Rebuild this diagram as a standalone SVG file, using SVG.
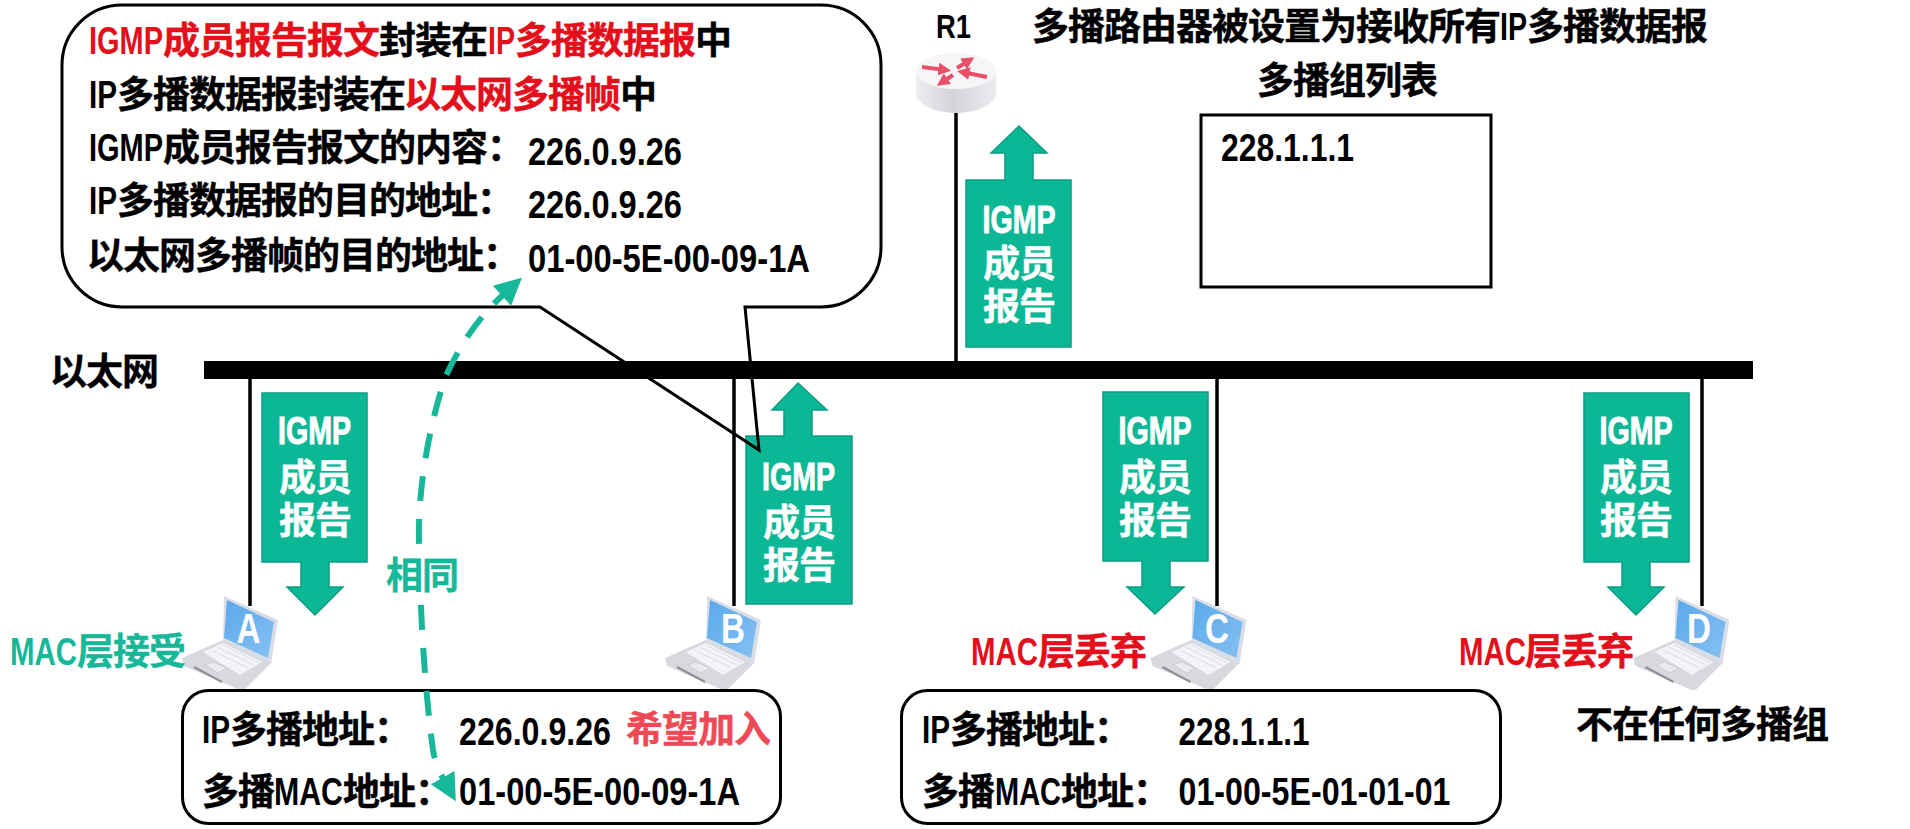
<svg xmlns="http://www.w3.org/2000/svg" width="1910" height="829" viewBox="0 0 1910 829">
<style>
  text { font-family: "Liberation Sans", "Noto Sans CJK SC", sans-serif; font-weight: 700; fill: #000; }
  .c { font-size: 37px; letter-spacing: -1px; stroke: #000; stroke-width: 0.4px; }
  .l { font-size: 39px; }
  .red { fill: #e30f1b; stroke: #e30f1b; }
  .mint { fill: #17b899; stroke: #17b899; }
  .pink { fill: #ee4a55; stroke: #ee4a55; }
  .w { fill: #fff; stroke: #fff; }
  .tag { font-size: 42px; fill: #fff; }
  .box { fill: none; stroke: #000; stroke-width: 3; }
  .wire { stroke: #000; stroke-width: 3.5; fill: none; }
  .pkt { fill: #0cb795; stroke: #0a9d82; stroke-width: 1.5; }
  .same { fill: none; stroke: #17b899; stroke-width: 6; stroke-dasharray: 25 18; stroke-dashoffset: 11; }
  .rarrow { stroke: #e8506a; stroke-width: 4; fill: none; marker-end: url(#rhead); }
</style>
<defs>
  <marker id="samehead" viewBox="0 0 10 10" refX="1" refY="5" markerWidth="6.500" markerHeight="4.500" orient="auto-start-reverse">
    <path d="M0,0 L10,5 L0,10 Z" fill="#17b899"/>
  </marker>
  <marker id="rhead" viewBox="0 0 10 10" refX="6" refY="5" markerWidth="3.200" markerHeight="3.200" orient="auto">
    <path d="M0,0 L10,5 L0,10 Z" fill="#e8506a"/>
  </marker>
  <linearGradient id="body" x1="0" x2="1" y1="0" y2="0">
    <stop offset="0" stop-color="#eeeef1"/>
    <stop offset="0.45" stop-color="#d3d3d9"/>
    <stop offset="1" stop-color="#ecebef"/>
  </linearGradient>
  <linearGradient id="glass" x1="0" x2="1" y1="0" y2="1">
    <stop offset="0" stop-color="#5aa9ec"/>
    <stop offset="1" stop-color="#86c0f2"/>
  </linearGradient>
  <g id="laptop">
    <path d="M2,78 L43,60 L92,82 L64,110 L60,110 L4,86 Z" fill="#d8d8df"/>
    <path d="M23,72 L43,63 L82,82 L60,95 Z" fill="#f4f4f8"/>
    <path d="M31,70 L68,88 M37,67 L74,85 M43,65 L79,83" stroke="#dcdce3" stroke-width="1" fill="none"/>
    <path d="M25,85 L33,82 L47,88 L38,93 Z" fill="#eaeaef" stroke="#c6c6ce" stroke-width="0.800"/>
    <path d="M14,87 L42,102" stroke="#8f8f98" stroke-width="2" fill="none"/>
    <path d="M44,16 L98,40 L91,84 L43,62 Z" fill="#d9dde6"/>
    <path d="M47,20 L94,42 L88,78 L44,58 Z" fill="url(#glass)"/>
  </g>
</defs>

<g id="connectors">
  <rect id="bus" x="204" y="361" width="1549" height="18" fill="#000"/>
  <path class="wire" d="M956,112 V361"/>
  <path class="wire" d="M250,379 V606"/>
  <path class="wire" d="M734,379 V606"/>
  <path class="wire" d="M1217,379 V606"/>
  <path class="wire" d="M1702,379 V606"/>
</g>

<g id="bus-label"><text class="c" x="50" y="385">以太网</text></g>

<g id="router-r1">
  <path d="M916,71 V94 C916,104 935,113 956,113 C977,113 996,104 996,94 V71 Z" fill="url(#body)"/>
  <ellipse cx="956" cy="71" rx="40" ry="18" fill="#f6f6f8"/>
  <path class="rarrow" d="M922,67 L946,70"/>
  <path class="rarrow" d="M957,68 L970,60"/>
  <path class="rarrow" d="M987,77 L962,72"/>
  <path class="rarrow" d="M953,75 L941,83"/>
  <text x="936" y="38" style="font-size:33px" textLength="35" lengthAdjust="spacingAndGlyphs">R1</text>
</g>

<g id="router-note">
  <text y="40"><tspan class="c" x="1032">多播路由器被设置为接收所有</tspan><tspan class="l" x="1500" textLength="27" lengthAdjust="spacingAndGlyphs">IP</tspan><tspan class="c" x="1527">多播数据报</tspan></text>
  <text class="c" x="1257" y="94">多播组列表</text>
</g>

<g id="group-table">
  <rect class="box" x="1201" y="115" width="290" height="172"/>
  <text class="l" x="1221" y="161" textLength="133" lengthAdjust="spacingAndGlyphs">228.1.1.1</text>
</g>

<g id="report-r1">
  <path class="pkt" d="M966,180 H1005 V153 H991 L1019,126 L1047,153 H1033 V180 H1071 V347 H966 Z"/>
  <text class="l w" x="982.500" y="233" textLength="73" lengthAdjust="spacingAndGlyphs">IGMP</text>
  <text class="c w" x="983" y="277">成员</text>
  <text class="c w" x="983" y="320">报告</text>
</g>

<g id="report-a">
  <path class="pkt" d="M262,393 H367 V562 H329 V587 H343 L315,615 L287,587 H301 V562 H262 Z"/>
  <text class="l w" x="278" y="444" textLength="73" lengthAdjust="spacingAndGlyphs">IGMP</text>
  <text class="c w" x="279" y="491">成员</text>
  <text class="c w" x="279" y="534">报告</text>
</g>

<g id="report-b">
  <path class="pkt" d="M746,436 H784 V410 H772 L798,383 L827,410 H812 V436 H852 V604 H746 Z"/>
  <text class="l w" x="762" y="490" textLength="73" lengthAdjust="spacingAndGlyphs">IGMP</text>
  <text class="c w" x="763" y="536">成员</text>
  <text class="c w" x="763" y="579">报告</text>
</g>

<g id="report-c">
  <path class="pkt" d="M1103,392 H1208 V561 H1170 V587 H1184 L1155,614 L1127,587 H1142 V561 H1103 Z"/>
  <text class="l w" x="1118.500" y="444" textLength="73" lengthAdjust="spacingAndGlyphs">IGMP</text>
  <text class="c w" x="1119" y="491">成员</text>
  <text class="c w" x="1119" y="534">报告</text>
</g>

<g id="report-d">
  <path class="pkt" d="M1584,393 H1689 V562 H1650 V587 H1664 L1636,615 L1608,587 H1622 V562 H1584 Z"/>
  <text class="l w" x="1599.500" y="444" textLength="73" lengthAdjust="spacingAndGlyphs">IGMP</text>
  <text class="c w" x="1600" y="491">成员</text>
  <text class="c w" x="1600" y="534">报告</text>
</g>

<g id="host-a">
  <use href="#laptop" x="180" y="580"/>
  <text class="tag" x="236.500" y="643" textLength="24" lengthAdjust="spacingAndGlyphs">A</text>
  <text y="665"><tspan class="l mint" style="stroke:none" x="10" textLength="67" lengthAdjust="spacingAndGlyphs">MAC</tspan><tspan class="c mint" x="77">层接受</tspan></text>
</g>
<g id="host-b">
  <use href="#laptop" x="663" y="580"/>
  <text class="tag" x="721" y="643" textLength="24" lengthAdjust="spacingAndGlyphs">B</text>
</g>
<g id="host-c">
  <use href="#laptop" x="1148.500" y="580"/>
  <text class="tag" x="1205" y="643" textLength="24" lengthAdjust="spacingAndGlyphs">C</text>
  <text y="665"><tspan class="l red" style="stroke:none" x="971" textLength="67" lengthAdjust="spacingAndGlyphs">MAC</tspan><tspan class="c red" x="1038">层丢弃</tspan></text>
</g>
<g id="host-d">
  <use href="#laptop" x="1631.500" y="580"/>
  <text class="tag" x="1687" y="643" textLength="24" lengthAdjust="spacingAndGlyphs">D</text>
  <text y="665"><tspan class="l red" style="stroke:none" x="1459" textLength="67" lengthAdjust="spacingAndGlyphs">MAC</tspan><tspan class="c red" x="1525">层丢弃</tspan></text>
  <text class="c" x="1576" y="738">不在任何多播组</text>
</g>

<g id="group-ab">
  <rect class="box" x="182.500" y="690.500" width="598" height="133" rx="26"/>
  <text y="743"><tspan class="l" x="202" textLength="28" lengthAdjust="spacingAndGlyphs">IP</tspan><tspan class="c" x="230">多播地址：</tspan></text>
  <text class="l" x="459" y="745" textLength="152" lengthAdjust="spacingAndGlyphs">226.0.9.26</text>
  <text class="c pink" x="626" y="743">希望加入</text>
  <text y="805"><tspan class="c" x="202">多播</tspan><tspan class="l" x="274" textLength="69" lengthAdjust="spacingAndGlyphs">MAC</tspan><tspan class="c" x="343">地址：</tspan></text>
  <text class="l" x="459" y="805" textLength="281" lengthAdjust="spacingAndGlyphs">01-00-5E-00-09-1A</text>
</g>

<g id="group-cd">
  <rect class="box" x="901.500" y="690.500" width="599" height="133" rx="26"/>
  <text y="743"><tspan class="l" x="922" textLength="28" lengthAdjust="spacingAndGlyphs">IP</tspan><tspan class="c" x="950">多播地址：</tspan></text>
  <text class="l" x="1178.500" y="745" textLength="131" lengthAdjust="spacingAndGlyphs">228.1.1.1</text>
  <text y="805"><tspan class="c" x="922">多播</tspan><tspan class="l" x="995" textLength="66" lengthAdjust="spacingAndGlyphs">MAC</tspan><tspan class="c" x="1061">地址：</tspan></text>
  <text class="l" x="1178.500" y="805" textLength="272" lengthAdjust="spacingAndGlyphs">01-00-5E-01-01-01</text>
</g>

<g id="callout">
  <path class="box" d="M122,307 H540 L759,450 L745,307 H821 A60,60 0 0 0 881,247 V65 A60,60 0 0 0 821,5 H122 A60,60 0 0 0 62,65 V247 A60,60 0 0 0 122,307 Z"/>
  <text y="54"><tspan class="l red" style="stroke:none" x="89" textLength="74" lengthAdjust="spacingAndGlyphs">IGMP</tspan><tspan class="c red" x="163">成员报告报文</tspan><tspan class="c" x="379">封装在</tspan><tspan class="l red" style="stroke:none" x="488" textLength="27" lengthAdjust="spacingAndGlyphs">IP</tspan><tspan class="c red" x="515">多播数据报</tspan><tspan class="c" x="695">中</tspan></text>
  <text y="108"><tspan class="l" x="89" textLength="28" lengthAdjust="spacingAndGlyphs">IP</tspan><tspan class="c" x="117">多播数据报封装在</tspan><tspan class="c red" x="404">以太网多播帧</tspan><tspan class="c" x="620">中</tspan></text>
  <text y="161"><tspan class="l" x="89" textLength="74" lengthAdjust="spacingAndGlyphs">IGMP</tspan><tspan class="c" x="163">成员报告报文的内容：</tspan></text>
  <text class="l" x="528" y="165" textLength="154" lengthAdjust="spacingAndGlyphs">226.0.9.26</text>
  <text y="214"><tspan class="l" x="89" textLength="28" lengthAdjust="spacingAndGlyphs">IP</tspan><tspan class="c" x="117">多播数据报的目的地址：</tspan></text>
  <text class="l" x="528" y="218" textLength="154" lengthAdjust="spacingAndGlyphs">226.0.9.26</text>
  <text class="c" x="87" y="269">以太网多播帧的目的地址：</text>
  <text class="l" x="528" y="272" textLength="282" lengthAdjust="spacingAndGlyphs">01-00-5E-00-09-1A</text>
</g>

<g id="same-link">
  <path class="same" marker-start="url(#samehead)" marker-end="url(#samehead)" d="M504,294 C482,314 462,340 445,378 C428,430 418,490 419,540 C420,620 426,700 433,750 C435,762 439,771 444,780"/>
  <rect x="386" y="548" width="70" height="50" fill="#fff"/>
  <text class="c mint" x="386" y="589">相同</text>
</g>
</svg>
